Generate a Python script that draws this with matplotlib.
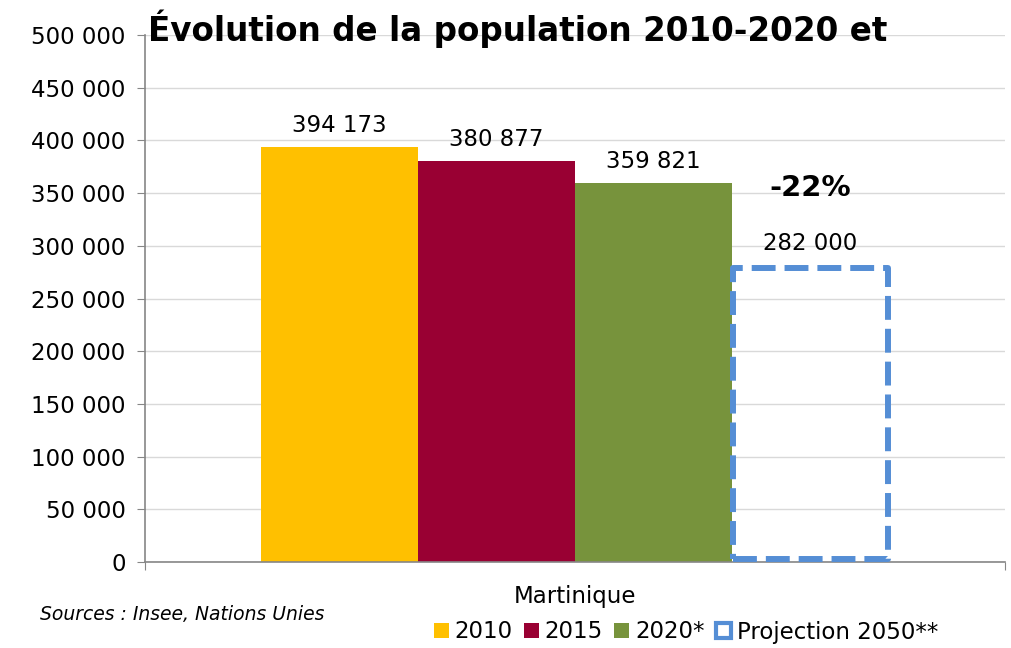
import matplotlib.pyplot as plt
from matplotlib.patches import Rectangle

# Data
years = ['2010', '2015', '2020*']
values = [394173, 380877, 359821]
colors = ['#FFC000', '#990033', '#77933C']
proj_label = 'Projection 2050**'
proj_value = 282000
change_label = '-22%'
category = 'Martinique'
yticks = [0, 50000, 100000, 150000, 200000, 250000, 300000, 350000, 400000, 450000, 500000]

def fmt(v):
    return f'{v:,}'.replace(',', ' ')

plt.rcParams['font.family'] = ['DejaVu Sans']

fig = plt.figure(figsize=(10.12, 6.48), dpi=100)
ax = fig.add_axes([145 / 1012, 1 - 562 / 648, 860 / 1012, 527 / 648])

# Bars
positions = [-1.5, -0.5, 0.5]
for x, v, c in zip(positions, values, colors):
    ax.bar(x, v, width=1.0, color=c, zorder=2)
    ax.text(x, v + 9000, fmt(v), ha='center', va='bottom', fontsize=16.5)

# Projection dashed bar (outline drawn just inside the bar's extent)
blue = '#558ED5'
inset = 2900
proj = ax.bar(1.5, proj_value - 2 * inset, bottom=inset, width=0.99, facecolor='none',
              edgecolor=blue, linewidth=4.3, linestyle=(0, (4, 1.5)), zorder=3)
proj[0].set_joinstyle('round')
ax.text(1.5, proj_value + 9000, fmt(proj_value), ha='center', va='bottom', fontsize=16.5)
ax.text(1.5, 355000, change_label, ha='center', va='center', fontsize=21, fontweight='bold')

# Axes styling
ax.set_xlim(-2.74, 2.74)
ax.set_ylim(0, 500000)
ax.set_yticks(yticks)
ax.set_yticklabels([fmt(t) for t in yticks], fontsize=16.5)
ax.set_xticks([-2.74, 2.74])
ax.set_xticklabels(['', ''])
ax.tick_params(axis='y', length=6, color='#868686', pad=8)
ax.tick_params(axis='x', length=6, color='#868686')
ax.grid(axis='y', color='#D9D9D9', linewidth=1, zorder=0)
ax.set_axisbelow(True)
for s in ['top', 'right']:
    ax.spines[s].set_visible(False)
for s in ['left', 'bottom']:
    ax.spines[s].set_color('#868686')
    ax.spines[s].set_linewidth(1.2)

# Title (cut as in the original)
fig.text(148 / 1012, 1 - 29 / 648, 'Évolution de la population 2010-2020 et',
         fontsize=23.5, fontweight='bold', ha='left', va='center')

# Category label
fig.text(575 / 1012, 1 - 597 / 648, category, ha='center', va='center', fontsize=16.5)

# Sources
fig.text(40 / 1012, 1 - 615 / 648, 'Sources : Insee, Nations Unies',
         ha='left', va='center', fontsize=13.5, style='italic')

# Legend
handles = [Rectangle((0, 0), 1, 1, facecolor=c) for c in colors]
handles.append(Rectangle((0, 0), 1, 1, facecolor='white', edgecolor=blue, linewidth=3))
labels = years + [proj_label]
fig.legend(handles, labels, loc='center', bbox_to_anchor=(686 / 1012, 1 - 632 / 648),
           ncol=4, frameon=False, fontsize=16.5, handlelength=0.65, handleheight=0.65,
           handletextpad=0.25, columnspacing=0.5)

fig.savefig('out.png', dpi=100)
